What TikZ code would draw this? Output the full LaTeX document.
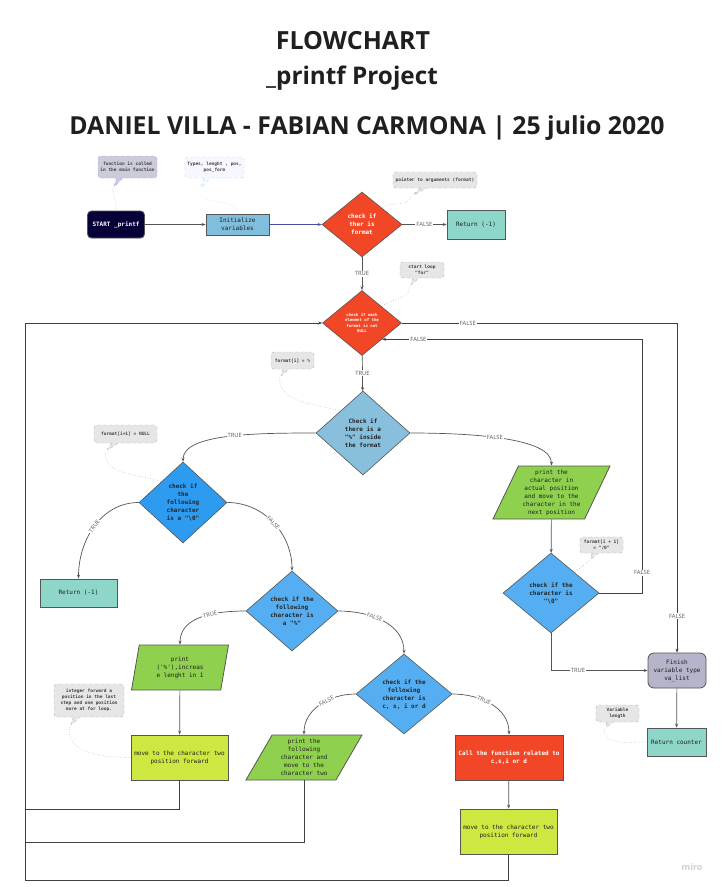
\documentclass[tikz,border=0pt]{standalone}
\usepackage{fontspec}
\setmainfont{Open Sans}
\setmonofont{DejaVu Sans Mono}
\usepackage{tikz}
\usetikzlibrary{arrows.meta, positioning, shapes.geometric, shapes.callouts}
\definecolor{mired}{HTML}{F24726}
\definecolor{minavy}{HTML}{050038}
\definecolor{miinit}{HTML}{80BEDE}
\definecolor{miteal}{HTML}{8DD6C8}
\definecolor{mipale}{HTML}{88BFDD}
\definecolor{midark}{HTML}{2D9BF0}
\definecolor{miblue}{HTML}{55AEF1}
\definecolor{migreen}{HTML}{8FD14F}
\definecolor{milime}{HTML}{CEE741}
\definecolor{migrey}{HTML}{B6B4CA}
\definecolor{miline}{HTML}{555555}
\definecolor{minote}{HTML}{E6E6E6}

\tikzset{
  box/.style={draw=miline, line width=0.8pt, font=\ttfamily\fontsize{6}{8}\selectfont, align=center, inner sep=1pt, text=black!88},
  decision/.style={diamond, draw=miline, line width=0.6pt, font=\ttfamily\bfseries\fontsize{6}{8}\selectfont, align=center, inner sep=0pt, text=black!85},
  iobox/.style 2 args={trapezium, trapezium left angle=#1, trapezium right angle=#2, trapezium stretches body, fill=migreen, box},
  note/.style={rectangle callout, rounded corners=3pt, draw=black!30, dashed, fill=minote, callout pointer width=6pt, font=\ttfamily\bfseries\fontsize{4.5}{6}\selectfont, align=center, inner sep=1pt, text=black!75},
  link/.style={draw=black!35, dotted, line width=0.5pt},
  flow/.style={draw=miline, line width=0.7pt, -{Stealth[length=4pt,width=3pt]}},
  back/.style={draw=black!75, line width=0.9pt},
  lbl/.style={fill=white, font=\fontsize{5.8}{6}\selectfont, text=black!65, inner sep=1pt},
}

\begin{document}
\begin{tikzpicture}[x=1pt, y=-1pt]
  \fill[white] (0,0) rectangle (721,887);
  \useasboundingbox (0,0) rectangle (721,887);

  % titles
  \node[anchor=base, font=\bfseries\fontsize{25}{30}\selectfont, text=black!88] (title) at (353,49) {FLOWCHART};
  \node[anchor=base, font=\bfseries\fontsize{24.3}{30}\selectfont, text=black!88] (subtitle) at (352,84) {\_printf Project};
  \node[anchor=base, font=\bfseries\fontsize{24.8}{30}\selectfont, text=black!88] (authors) at (367,134) {DANIEL VILLA - FABIAN CARMONA | 25 julio 2020};

  % main column
  \node[box, rounded corners=4pt, fill=minavy, text=white, font=\ttfamily\bfseries\fontsize{6}{8}\selectfont, minimum width=57, minimum height=27] (start) at (116,224.5) {START \_printf};
  \node[box, fill=miinit, minimum width=63, minimum height=21] (init) at (237.5,224.5) {Initialize\\variables};
  \node[decision, fill=mired, text=white, minimum width=80, minimum height=65] (d1) at (362,224.5) {check if\\ther is\\format};
  \node[box, fill=miteal, minimum width=58, minimum height=29] (ret1) at (476,224.5) {Return (-1)};
  \node[decision, fill=mired, text=white, font=\ttfamily\bfseries\fontsize{4}{5.5}\selectfont, minimum width=79, minimum height=65] (d2) at (362,323) {check if each\\element of the\\format is not\\NULL};
  \node[decision, fill=mipale, minimum width=94, minimum height=84] (d3) at (363,433) {Check if\\there is a\\"\%" inside\\the format};

  % left branch
  \node[decision, fill=midark, minimum width=88, minimum height=81] (d4) at (183,502.5) {check if\\the\\following\\character\\is a "\textbackslash 0"};
  \node[box, fill=miteal, minimum width=77, minimum height=28] (ret2) at (78.5,593) {Return (-1)};
  \node[decision, fill=miblue, minimum width=92, minimum height=80] (d5) at (292,611) {check if the\\following\\character is\\a "\%"};
  \node[iobox={72}{108}, minimum width=97, minimum height=45] (pr1) at (180,667.5) {print\\('\%'),increas\\e lenght in 1};
  \node[decision, fill=miblue, minimum width=96, minimum height=80] (d6) at (404,694) {check if the\\following\\character is\\c, s, i or d};
  \node[box, fill=milime, minimum width=97, minimum height=45] (mv1) at (179.5,757.5) {move to the character two\\position forward};
  \node[iobox={56}{124}, minimum width=116, minimum height=45] (pr3) at (304,757.5) {print the\\following\\character and\\move to the\\character two};
  \node[box, fill=mired, text=white, font=\ttfamily\bfseries\fontsize{6}{8}\selectfont, minimum width=108, minimum height=45] (call) at (509,757.5) {Call the function related to\\c,s,i or d};
  \node[box, fill=milime, minimum width=97, minimum height=45] (mv2) at (508.5,831.5) {move to the character two\\position forward};

  % right branch
  \node[iobox={62}{118}, minimum width=117, minimum height=53] (pr2) at (551.5,492.5) {print the\\character in\\actual position\\and move to the\\character in the\\next position};
  \node[decision, fill=miblue, minimum width=96, minimum height=80] (d7) at (551,593) {check if the\\character is\\"\textbackslash 0"};
  \node[box, rounded corners=6pt, fill=migrey, minimum width=58, minimum height=35] (finish) at (677,670.5) {Finish\\variable type\\va\_list};
  \node[box, fill=miteal, minimum width=59, minimum height=28] (retc) at (676.5,742) {Return counter};

  % notes
  \node[note, fill=migrey!70, draw=blue!35, minimum width=59, minimum height=22, callout absolute pointer={(113,188)}] (c1) at (127.5,167) {function is called\\in the main function};
  \node[note, fill=blue!3, draw=cyan!40, minimum width=59, minimum height=21, callout absolute pointer={(200,189)}] (c2) at (214.5,167.5) {Types, lenght , pos,\\pos\_form};
  \node[note, minimum width=84, minimum height=16, callout absolute pointer={(412,196)}] (c3) at (435,180) {pointer to arguments (format)};
  \node[note, minimum width=44, minimum height=16, callout absolute pointer={(410,286)}] (c4) at (422,270) {start loop\\"for"};
  \node[note, minimum width=43, minimum height=17, callout absolute pointer={(280,377)}] (c5) at (292.5,360.5) {format[i] = \%};
  \node[note, minimum width=63, minimum height=18, callout absolute pointer={(106,451)}] (c6) at (125.5,434) {format[i+1] = NULL};
  \node[note, minimum width=43, minimum height=16, callout absolute pointer={(590,560)}] (c7) at (601.5,545) {format[i + 1]\\= "/0"};
  \node[note, minimum width=70, minimum height=33, callout absolute pointer={(70,726)}] (c8) at (89,700.5) {integer forward a\\position in the last\\step and one position\\more at for loop.};
  \node[note, minimum width=43, minimum height=17, callout absolute pointer={(605,728)}] (c9) at (617.5,713.5) {Variable\\length};

  \draw[link, blue!40] (c1.pointer) to[out=-80,in=90] (start.north);
  \draw[link, cyan!40] (c2.pointer) to[out=-90,in=90] (init.north);
  \draw[link] (c3.pointer) to[out=-110,in=40] (d1.39);
  \draw[link] (c4.pointer) to[out=-90,in=40] (d2.40);
  \draw[link] (c5.pointer) to[out=-90,in=160] (d3.137);
  \draw[link] (c6.pointer) to[out=-90,in=160] (d4.136);
  \draw[link] (c7.pointer) -- (d7.41);
  \draw[link] (c8.pointer) to[out=-100,in=180] (mv1.west);
  \draw[link] (c9.pointer) to[out=-100,in=180] (retc.west);

  % connectors
  \draw[flow] (start) -- (init);
  \draw[flow, draw=blue!45!black!70] (init) -- (d1);
  \draw[flow] (d1) -- node[lbl]{FALSE} (ret1);
  \draw[flow] (d1) -- node[lbl]{TRUE} (d2);
  \draw[flow] (d2) -- node[lbl]{TRUE} (d3);
  \coordinate (rtop) at (677,323);
  \draw[flow, draw=black!75] (d2.east) -- node[lbl, pos=0.24]{FALSE} (rtop) -- node[lbl, pos=0.89]{FALSE} (finish.north);
  \coordinate (rx) at (642,0);
  \draw[flow, draw=black!75] (d7.east) -| node[lbl, pos=0.54]{FALSE} (rx |- d2.-39) -- node[lbl, pos=0.86]{FALSE} (d2.-39);

  \draw[flow] (d3.west) to[out=180, in=90, out distance=60pt, in distance=28pt] node[lbl, pos=0.45]{TRUE} (d4.north);
  \draw[flow] (d3.east) to[out=0, in=90, out distance=60pt, in distance=28pt] node[lbl, pos=0.45]{FALSE} (pr2.north);
  \draw[flow] (d4.west) to[out=180, in=90] node[lbl, sloped]{TRUE} (ret2.north);
  \draw[flow] (d4.east) to[out=0, in=90] node[lbl, sloped]{FALSE} (d5.north);
  \draw[flow] (d5.west) to[out=180, in=90] node[lbl, sloped, pos=0.4]{TRUE} (pr1.north);
  \draw[flow] (d5.east) to[out=0, in=90] node[lbl, sloped, pos=0.4]{FALSE} (d6.north);
  \draw[flow] (d6.west) to[out=180, in=90] node[lbl, sloped, pos=0.4]{FALSE} (pr3.north);
  \draw[flow] (d6.east) to[out=0, in=90] node[lbl, sloped, pos=0.4]{TRUE} (call.north);
  \draw[flow] (pr1) -- (mv1);
  \draw[flow] (call) -- (mv2);
  \draw[flow] (pr2) -- (d7);
  \draw[flow] (d7.south) |- node[lbl, pos=0.64]{TRUE} (finish.west);
  \draw[flow] (finish) -- (retc);

  % loop back to the for
  \coordinate (loopbot) at (25,880);
  \coordinate (j1) at (25,809);
  \coordinate (j2) at (25,842);
  \draw[back] (mv1.south) |- (j1);
  \draw[back] (pr3.south) |- (j2);
  \draw[back, -{Stealth[length=4pt,width=3pt]}] (mv2.south) |- (loopbot) |- (d2.west);

  \node[font=\bfseries\fontsize{9}{10}\selectfont, text=black!18] (miro) at (692,867) {miro};
\end{tikzpicture}
\end{document}
